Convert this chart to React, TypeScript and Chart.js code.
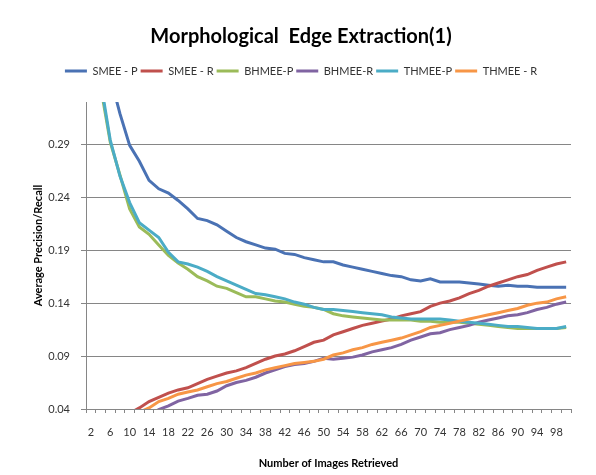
import React, { useEffect, useRef } from 'react';
import { Chart, registerables } from 'chart.js';

Chart.register(...registerables);

const categories = [
  2, 4, 6, 8, 10, 12, 14, 16, 18, 20, 22, 24, 26, 28, 30, 32, 34, 36, 38, 40,
  42, 44, 46, 48, 50, 52, 54, 56, 58, 60, 62, 64, 66, 68, 70, 72, 74, 76, 78, 80,
  82, 84, 86, 88, 90, 92, 94, 96, 98, 100,
];

const smeeP = [
  0.45, 0.39, 0.354, 0.319, 0.289, 0.274, 0.256, 0.248, 0.244, 0.237,
  0.229, 0.22, 0.218, 0.214, 0.208, 0.202, 0.198, 0.195, 0.192, 0.191,
  0.187, 0.186, 0.183, 0.181, 0.179, 0.179, 0.176, 0.174, 0.172, 0.17,
  0.168, 0.166, 0.165, 0.162, 0.161, 0.163, 0.16, 0.16, 0.16, 0.159,
  0.158, 0.157, 0.156, 0.157, 0.156, 0.156, 0.155, 0.155, 0.155, 0.155,
];

const smeeR = [
  0.015, 0.02, 0.026, 0.031, 0.036, 0.041, 0.047, 0.051, 0.055, 0.058,
  0.06, 0.064, 0.068, 0.071, 0.074, 0.076, 0.079, 0.083, 0.087, 0.09,
  0.092, 0.095, 0.099, 0.103, 0.105, 0.11, 0.113, 0.116, 0.119, 0.121,
  0.123, 0.125, 0.128, 0.13, 0.132, 0.137, 0.14, 0.142, 0.145, 0.149,
  0.152, 0.156, 0.159, 0.162, 0.165, 0.167, 0.171, 0.174, 0.177, 0.179,
];

const bhmeeP = [
  0.42, 0.345, 0.292, 0.261, 0.229, 0.212, 0.205, 0.195, 0.185, 0.178,
  0.172, 0.165, 0.161, 0.156, 0.154, 0.15, 0.146, 0.146, 0.144, 0.142,
  0.141, 0.139, 0.137, 0.136, 0.134, 0.13, 0.128, 0.127, 0.126, 0.125,
  0.124, 0.124, 0.124, 0.124, 0.123, 0.123, 0.122, 0.122, 0.122, 0.121,
  0.12, 0.119, 0.118, 0.117, 0.116, 0.116, 0.116, 0.116, 0.116, 0.117,
];

const bhmeeR = [
  0.005, 0.009, 0.013, 0.018, 0.023, 0.028, 0.033, 0.0395, 0.043, 0.0475,
  0.05, 0.053, 0.054, 0.057, 0.062, 0.065, 0.067, 0.07, 0.074, 0.077,
  0.08, 0.082, 0.083, 0.085, 0.088, 0.087, 0.088, 0.089, 0.091, 0.094,
  0.096, 0.098, 0.101, 0.105, 0.108, 0.111, 0.112, 0.115, 0.117, 0.119,
  0.122, 0.124, 0.126, 0.128, 0.129, 0.131, 0.134, 0.136, 0.139, 0.141,
];

const thmeeP = [
  0.43, 0.35, 0.294, 0.26, 0.235, 0.216, 0.209, 0.202, 0.188, 0.179,
  0.177, 0.174, 0.17, 0.165, 0.161, 0.157, 0.153, 0.149, 0.148, 0.146,
  0.144, 0.141, 0.139, 0.136, 0.134, 0.134, 0.133, 0.132, 0.131, 0.13,
  0.129, 0.127, 0.126, 0.125, 0.125, 0.125, 0.125, 0.124, 0.123, 0.122,
  0.121, 0.12, 0.119, 0.118, 0.118, 0.117, 0.116, 0.116, 0.116, 0.118,
];

const thmeeR = [
  0.012, 0.017, 0.022, 0.027, 0.032, 0.037, 0.041, 0.047, 0.05, 0.054,
  0.056, 0.058, 0.061, 0.064, 0.066, 0.069, 0.072, 0.074, 0.077, 0.079,
  0.081, 0.083, 0.084, 0.085, 0.087, 0.091, 0.093, 0.096, 0.098, 0.101,
  0.103, 0.105, 0.107, 0.11, 0.113, 0.117, 0.119, 0.121, 0.123, 0.125,
  0.127, 0.129, 0.131, 0.133, 0.135, 0.138, 0.14, 0.141, 0.144, 0.146,
];

const seriesNames = ['SMEE - P', 'SMEE - R', 'BHMEE-P', 'BHMEE-R', 'THMEE-P', 'THMEE - R'];
const seriesColors = ['#4A72B4', '#C0504D', '#9BBB59', '#8064A2', '#4BACC6', '#F79646'];
const seriesValues = [smeeP, smeeR, bhmeeP, bhmeeR, thmeeP, thmeeR];

const yTicks = [0.04, 0.09, 0.14, 0.19, 0.24, 0.29];
const yMin = 0.04;
const yMax = 0.33;
const yTitle = 'Average Precision/Recall';

const FONT = 'Lato, "Open Sans", sans-serif';

const yTitlePlugin = {
  id: 'yTitleCustom',
  afterDraw(chart: any) {
    const { ctx, chartArea } = chart;
    ctx.save();
    ctx.translate(38, (chartArea.top + chartArea.bottom) / 2 - 10);
    ctx.rotate(-Math.PI / 2);
    ctx.font = `bold 11px ${FONT}`;
    ctx.fillStyle = '#000';
    ctx.textAlign = 'center';
    ctx.textBaseline = 'middle';
    ctx.fillText(yTitle, 0, 0);
    ctx.restore();
  },
};

export default function App() {
  const ref = useRef<HTMLCanvasElement>(null);

  useEffect(() => {
    const canvas = ref.current;
    if (!canvas) return;
    const chart = new Chart(canvas, {
      type: 'line',
      data: {
        labels: categories.map(String),
        datasets: seriesValues.map((vals, i) => ({
          label: seriesNames[i],
          data: vals,
          borderColor: seriesColors[i],
          backgroundColor: seriesColors[i],
          borderWidth: 3,
          pointRadius: 0,
          pointHoverRadius: 0,
          tension: 0,
          fill: false,
          order: -i,
        })),
      },
      plugins: [yTitlePlugin],
      options: {
        responsive: false,
        animation: false,
        events: [],
        layout: { padding: { left: 31, right: 25, top: 0, bottom: 0 } },
        plugins: {
          tooltip: { enabled: false },
          title: {
            display: true,
            text: 'Morphological  Edge Extraction(1)',
            color: '#000',
            font: { family: FONT, size: 20, weight: 'bold' },
            padding: { top: 25, bottom: 13.5 },
          },
          subtitle: {
            display: true,
            text: '',
            weight: 500,
            font: { family: FONT, size: 1 },
            padding: { top: 14.3, bottom: 0 },
          } as any,
          legend: {
            display: true,
            position: 'top',
            labels: {
              usePointStyle: true,
              pointStyle: 'line',
              pointStyleWidth: 22,
              boxHeight: 11,
              color: '#333',
              font: { family: FONT, size: 11 },
              padding: 3,
              sort: (a: any, b: any) => a.datasetIndex - b.datasetIndex,
            },
          },
        },
        scales: {
          x: {
            type: 'category',
            offset: true,
            afterFit: (scale: any) => {
              scale.height = 66;
            },
            grid: {
              offset: true,
              drawOnChartArea: false,
              drawTicks: true,
              tickLength: 4,
              color: '#868686',
            },
            border: { display: true, color: '#868686', width: 1 },
            ticks: {
              autoSkip: false,
              maxRotation: 0,
              minRotation: 0,
              padding: 13,
              color: '#333',
              font: { family: FONT, size: 11 },
              callback: (_v: any, idx: number) => (idx % 2 === 0 ? String(categories[idx]) : ''),
            },
            title: {
              display: true,
              text: 'Number of Images Retrieved',
              color: '#000',
              font: { family: FONT, size: 11, weight: 'bold' },
              padding: { top: 4, bottom: 5 },
            },
          },
          y: {
            type: 'linear',
            min: yMin,
            max: yMax,
            afterFit: (scale: any) => {
              scale.width = 55;
            },
            afterBuildTicks: (scale: any) => {
              scale.ticks = yTicks.map((v) => ({ value: v }));
            },
            grid: {
              drawOnChartArea: true,
              drawTicks: true,
              tickLength: 5,
              color: '#868686',
            },
            border: { display: true, color: '#868686', width: 1 },
            ticks: {
              padding: 11,
              color: '#333',
              font: { family: FONT, size: 11 },
              callback: (v: any) => Number(v).toFixed(2),
            },
            title: { display: false },
          },
        },
      },
    });
    return () => chart.destroy();
  }, []);

  return (
    <div style={{ position: 'absolute', left: 0, top: 0, width: 596, height: 475, background: '#fff' }}>
      <canvas ref={ref} width={596} height={475} style={{ display: 'block' }} />
    </div>
  );
}
